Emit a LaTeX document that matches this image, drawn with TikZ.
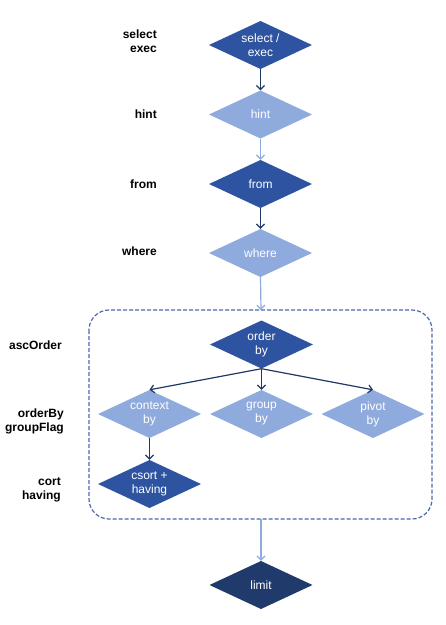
\documentclass[tikz,border=0pt]{standalone}
\usepackage{fontspec}
\setmainfont{Liberation Sans}
\usetikzlibrary{arrows.meta}
\definecolor{darkfill}{HTML}{2E54A1}
\definecolor{lightfill}{HTML}{8FAADC}
\definecolor{navyfill}{HTML}{1F3A6B}
\definecolor{darkarrow}{HTML}{1F3864}
\definecolor{boxline}{HTML}{4A68A8}
\tikzset{
  dia/.style={rectangle, inner sep=0pt, minimum width=103pt, minimum height=48pt,
    text=white, font=\fontsize{12}{14}\selectfont, align=center,
    path picture={\fill[#1] (path picture bounding box.north) -- (path picture bounding box.east)
      -- (path picture bounding box.south) -- (path picture bounding box.west) -- cycle;}},
  lbl/.style={font=\bfseries\fontsize{12}{14}\selectfont, align=right, anchor=east, inner sep=0pt},
  darr/.style={draw=darkarrow, line width=1.2pt, -{Straight Barb[length=4pt,width=8pt]}},
  larr/.style={draw=lightfill, line width=1.2pt, -{Straight Barb[length=4pt,width=8pt]}},
  grp/.style={draw=boxline, dash pattern=on 4pt off 2pt, line width=1.2pt, rounded corners=20pt},
}
\begin{document}
\begin{tikzpicture}[x=1pt,y=-1pt]
\useasboundingbox (0,0) rectangle (446,625);
% diamonds
\node[dia=darkfill] (sel) at (260.5,45) {select /\\exec};
\node[dia=lightfill] (hint) at (260.5,114.5) {hint};
\node[dia=darkfill] (from) at (260.5,184) {from};
\node[dia=lightfill] (where) at (260.5,253) {where};
\node[dia=darkfill] (order) at (261.5,344.5) {order\\by};
\node[dia=lightfill] (context) at (149.5,414) {context\\by};
\node[dia=lightfill] (group) at (261.5,414) {group\\by};
\node[dia=lightfill] (pivot) at (373,414) {pivot\\by};
\node[dia=darkfill] (csort) at (149.5,484) {csort +\\having};
\node[dia=navyfill] (limit) at (261,585) {limit};
% group box
\draw[grp] (89,310) rectangle (432,519);
\coordinate (boxtop) at (261,310);
\coordinate (boxbot) at (261,519);
% labels
\node[lbl] (l1) at (157,41.5) {select\\exec};
\node[lbl] (l2) at (157,114.5) {hint};
\node[lbl] (l3) at (157,184) {from};
\node[lbl] (l4) at (157,251.5) {where};
\node[lbl] (l5) at (62,345) {ascOrder};
\node[lbl] (l6) at (64,421) {orderBy\\groupFlag};
\node[lbl] (l7) at (61,490) {cort\\having};
% connectors
\draw[darr] (sel.south) -- (hint.north);
\draw[larr] (hint.south) -- (from.north);
\draw[darr] (from.south) -- (where.north);
\draw[larr] (where.south) -- (boxtop);
\draw[darr] (order.south) -- (context.north);
\draw[darr] (order.south) -- (group.north);
\draw[darr] (order.south) -- (pivot.north);
\draw[darr] (context.south) -- (csort.north);
\draw[larr] (boxbot) -- (limit.north);
\end{tikzpicture}
\end{document}
